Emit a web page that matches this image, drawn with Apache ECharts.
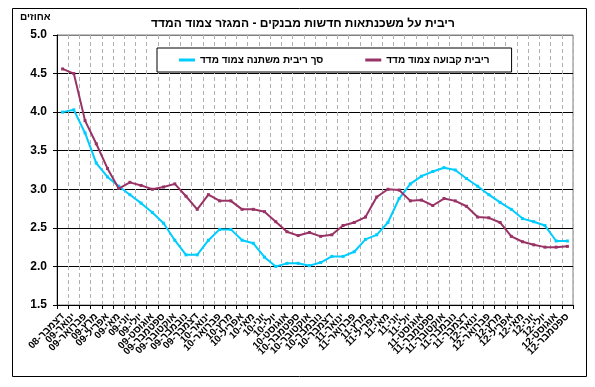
<!DOCTYPE html>
<html><head><meta charset="utf-8">
<script src="https://cdn.jsdelivr.net/npm/echarts@6/dist/echarts.min.js"></script>
<style>html,body{margin:0;padding:0;background:#fff}#c{width:595px;height:387px}</style>
</head><body><div id="c"></div>
<script>
const categories = [
  'דצמבר-08',
  'ינואר-09','פברואר-09','מרץ-09','אפריל-09','מאי-09','יוני-09','יולי-09','אוגוסט-09','ספטמבר-09','אוקטובר-09','נובמבר-09','דצמבר-09',
  'ינואר-10','פברואר-10','מרץ-10','אפריל-10','מאי-10','יוני-10','יולי-10','אוגוסט-10','ספטמבר-10','אוקטובר-10','נובמבר-10','דצמבר-10',
  'ינואר-11','פברואר-11','מרץ-11','אפריל-11','מאי-11','יוני-11','יולי-11','אוגוסט-11','ספטמבר-11','אוקטובר-11','נובמבר-11','דצמבר-11',
  'ינואר-12','פברואר-12','מרץ-12','אפריל-12','מאי-12','יוני-12','יולי-12','אוגוסט-12','ספטמבר-12'
];
const fixedRate = [4.56,4.50,3.89,3.59,3.27,3.01,3.09,3.05,3.00,3.03,3.07,2.91,2.74,2.93,2.85,2.85,2.74,2.74,2.71,2.58,2.45,2.40,2.44,2.39,2.41,2.53,2.57,2.64,2.90,3.00,2.99,2.85,2.86,2.79,2.88,2.85,2.78,2.64,2.63,2.57,2.39,2.32,2.28,2.25,2.25,2.26];
const variableRate = [4.00,4.03,3.73,3.34,3.16,3.04,2.93,2.82,2.70,2.56,2.34,2.15,2.15,2.34,2.48,2.48,2.34,2.30,2.12,2.00,2.04,2.04,2.01,2.05,2.13,2.13,2.19,2.35,2.41,2.57,2.88,3.07,3.17,3.23,3.28,3.25,3.14,3.04,2.93,2.83,2.74,2.62,2.58,2.53,2.33,2.33];
const seriesNames = ['סך ריבית משתנה צמוד מדד','ריבית קבועה צמוד מדד'];
const titleText = 'ריבית על משכנתאות חדשות מבנקים - המגזר צמוד המדד';
const yUnit = 'אחוזים';
const yMin = 1.5, yMax = 5.0, yStep = 0.5;

const FONT = '"Liberation Sans", Arial, sans-serif';
const chart = echarts.init(document.getElementById('c'), null, {renderer:'canvas'});
chart.setOption({
  animation:false,
  backgroundColor:'#fff',
  title:{text:titleText, left:298, top:13, textAlign:'center',
    textStyle:{fontFamily:FONT, fontSize:12, fontWeight:'bold', color:'#000'}},
  graphic:[
    {type:'rect', shape:{x:12.5,y:8.5,width:574,height:368}, style:{fill:null, stroke:'#000', lineWidth:1}, z:-1},
    {type:'text', left:20, top:12, style:{text:yUnit, font:'bold 10px '+FONT, fill:'#000'}}
  ],
  legend:{
    data:seriesNames, left:157, top:48, orient:'horizontal',
    backgroundColor:'#fff', borderColor:'#000', borderWidth:1,
    padding:[7,22,7,22], itemGap:42, itemWidth:16, itemHeight:3, icon:'rect',
    textStyle:{fontFamily:FONT, fontSize:10, fontWeight:'bold', color:'#000'}, z:20
  },
  grid:{left:57, right:22, top:35, bottom:82, show:true, borderColor:'#808080', borderWidth:1, backgroundColor:'#fff'},
  xAxis:{
    type:'category', data:categories, boundaryGap:true,
    axisLine:{lineStyle:{color:'#000', width:1}},
    axisTick:{show:true, interval:0, length:4, inside:false, lineStyle:{color:'#000'}},
    axisLabel:{interval:0, rotate:45, margin:10, fontFamily:FONT, fontSize:10, fontWeight:'bold', color:'#000'},
    splitLine:{show:true, interval:0, lineStyle:{color:'#b0b0b0', type:[4,3], width:1}}
  },
  yAxis:{
    type:'value', min:yMin, max:yMax, interval:yStep, position:'left',
    axisLine:{show:true, lineStyle:{color:'#000'}},
    axisTick:{show:true, length:4, lineStyle:{color:'#000'}},
    axisLabel:{formatter:v=>v.toFixed(1), margin:10, fontFamily:FONT, fontSize:12, fontWeight:'bold', color:'#000'},
    splitLine:{show:true, lineStyle:{color:['#000','#000','#000','#000','#000','#000','#000','#808080'], width:1}}
  },
  series:[
    {name:seriesNames[0], type:'line', data:variableRate, color:'#00CCFF',
     lineStyle:{width:2, color:'#00CCFF'}, symbol:'rect', symbolSize:3, showSymbol:true,
     itemStyle:{color:'#00CCFF'}, z:3},
    {name:seriesNames[1], type:'line', data:fixedRate, color:'#993366',
     lineStyle:{width:2, color:'#993366'}, symbol:'rect', symbolSize:3, showSymbol:true,
     itemStyle:{color:'#993366'}, z:4}
  ]
});
</script></body></html>
